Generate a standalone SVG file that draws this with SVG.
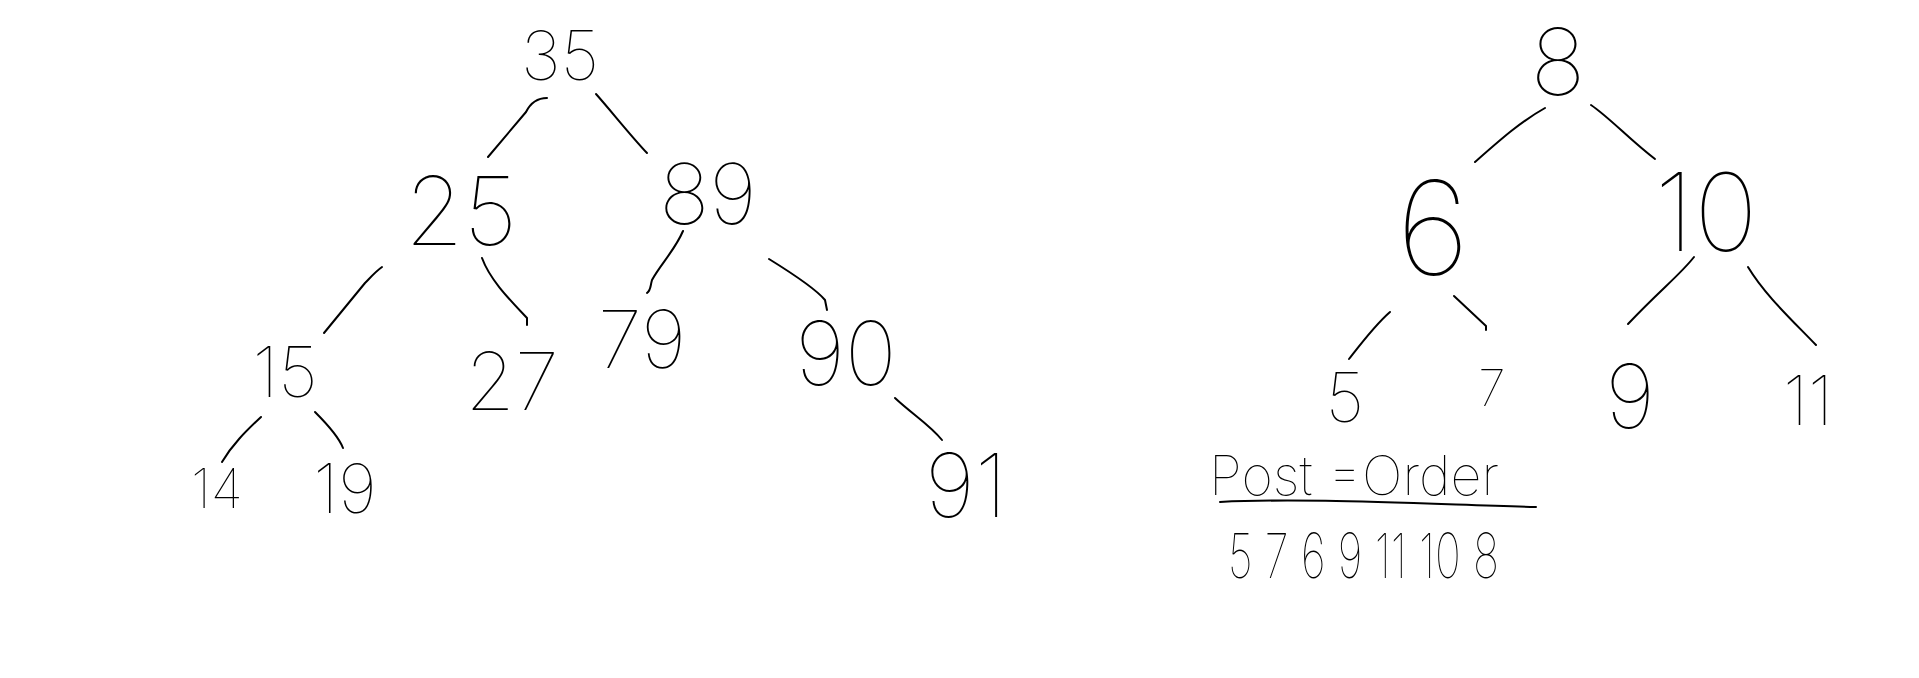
<svg xmlns="http://www.w3.org/2000/svg" width="1919" height="678" viewBox="0 0 1919 678">
<style>
.bg{fill:#ffffff}
.t{font-family:Inter,"DejaVu Sans","Liberation Sans",sans-serif;font-weight:100;fill:#000;text-anchor:middle}
.s{font-family:Inter,"DejaVu Sans","Liberation Sans",sans-serif;font-weight:100;fill:#000}
.e{fill:none;stroke:#000;stroke-width:2;stroke-linecap:round;stroke-linejoin:round}
</style>
<rect class="bg" x="0" y="0" width="1919" height="678"/>
<g id="connectors">
<path class="e" d="M547,98 C537,98 530,104 526,112 L488,157"/>
<path class="e" d="M596,94 C612,112 630,135 647,153"/>
<path class="e" d="M382,267 C375,272 370,278 365,283 L324,333"/>
<path class="e" d="M482,258 C490,280 510,300 527,318 L527,325"/>
<path class="e" d="M683,231 C675,250 660,265 652,280 C650,287 651,290 647,293"/>
<path class="e" d="M769,259 C790,272 815,288 825,300 L827,310"/>
<path class="e" d="M261,417 C245,432 232,445 222,462"/>
<path class="e" d="M315,412 C328,425 340,440 343,448"/>
<path class="e" d="M895,398 C912,414 930,425 942,440"/>
<path class="e" d="M1545,108 C1520,122 1500,140 1475,162"/>
<path class="e" d="M1591,105 C1610,118 1630,140 1655,159"/>
<path class="e" d="M1390,312 C1375,325 1360,345 1349,359"/>
<path class="e" d="M1454,296 L1486,326 L1486,330"/>
<path class="e" d="M1694,257 C1680,275 1660,290 1628,324"/>
<path class="e" d="M1748,267 C1765,295 1790,318 1816,345"/>
</g>
<g id="n35"><text class="t" x="560" y="80" font-size="68">35</text></g>
<g id="n25"><text class="t" x="461" y="245" font-size="95">25</text></g>
<g id="n89"><text class="t" x="708" y="224" font-size="84">89</text></g>
<g id="n15"><text class="t" x="285" y="397" font-size="70">15</text></g>
<g id="n27"><text class="t" x="512" y="410" font-size="80">27</text></g>
<g id="n79"><text class="t" x="642" y="368" font-size="80">79</text></g>
<g id="n90"><text class="t" x="846" y="385" font-size="88">90</text></g>
<g id="n91"><text class="t" x="966" y="517" font-size="88">91</text></g>
<g id="n14"><text class="t" x="217" y="508" font-size="54">14</text></g>
<g id="n19"><text class="t" x="345" y="513" font-size="68">19</text></g>
<g id="n8"><text class="t" x="1558" y="95" font-size="92">8</text></g>
<g id="n6"><text class="t" x="1433" y="275" font-size="130">6</text></g>
<g id="n10"><text class="t" x="1706" y="251" font-size="108">10</text></g>
<g id="n5"><text class="t" x="1345" y="422" font-size="68">5</text></g>
<g id="n7"><text class="t" x="1492" y="406" font-size="50">7</text></g>
<g id="n9"><text class="t" x="1630" y="428" font-size="88">9</text></g>
<g id="n11"><text class="t" x="1808" y="425" font-size="68">11</text></g>
<g id="postorder">
<text class="s" x="1209" y="495" font-size="54" textLength="290" lengthAdjust="spacingAndGlyphs">Post =Order</text>
<path class="e" d="M1220,502 C1300,498 1400,503 1536,507"/>
<text class="s" x="1228" y="578" font-size="62" textLength="271" lengthAdjust="spacingAndGlyphs">5 7 6 9 11 10 8</text>
</g>
</svg>
